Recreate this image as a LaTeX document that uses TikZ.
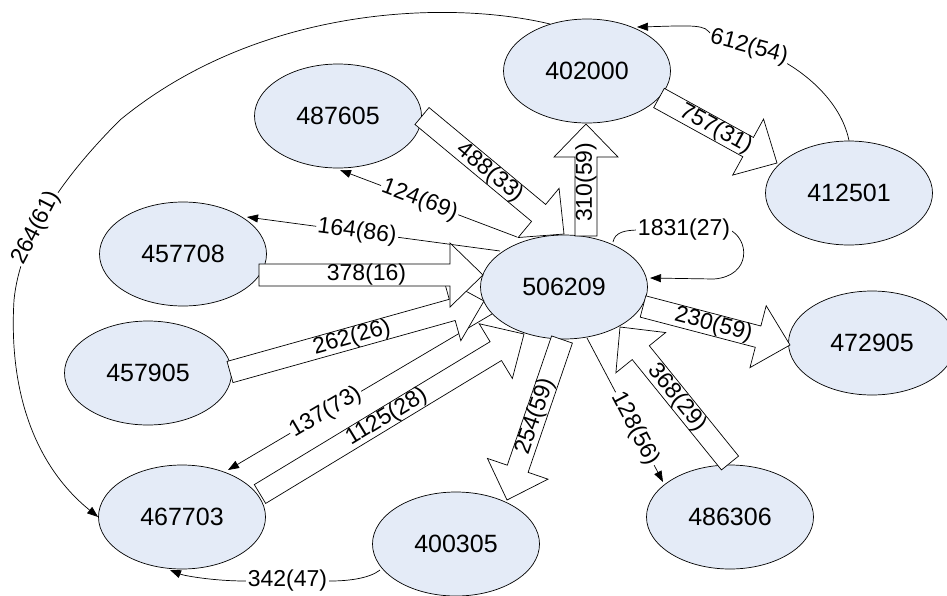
\documentclass[tikz,border=0pt]{standalone}
\usepackage{fontspec}
\setmainfont{Liberation Sans}
\usetikzlibrary{calc,arrows.meta,shapes.geometric}

\definecolor{stationfill}{RGB}{228,235,247}

% fat hollow arrow from a tail point to a tip point, label along the shaft
\newcommand\fatarrow[3]{%
  \path #1 coordinate (fat-t) #2 coordinate (fat-h);
  \coordinate (fat-b) at ($(fat-h)!33pt!(fat-t)$);
  \draw[fatline]
    ($(fat-t)!11pt!90:(fat-h)$) -- ($(fat-b)!11pt!-90:(fat-t)$) --
    ($(fat-b)!32pt!-90:(fat-t)$) -- (fat-h) --
    ($(fat-b)!32pt!90:(fat-t)$) -- ($(fat-b)!11pt!90:(fat-t)$) --
    ($(fat-t)!11pt!-90:(fat-h)$) -- cycle;
  \path (fat-t) -- (fat-h) node[pos=0.48, sloped, fatlbl] {#3};
}

\begin{document}
\begin{tikzpicture}[x=1pt, y=1pt,
  station/.style={ellipse, draw, line width=0.7pt, fill=stationfill,
    minimum width=167pt, minimum height=104pt, inner sep=0pt,
    font=\fontsize{25}{30}\selectfont},
  flow/.style={line width=0.7pt, -{Triangle[length=11pt,width=8pt]}},
  fatline/.style={draw, line width=0.7pt, fill=white, line join=miter},
  lbl/.style={fill=white, inner sep=1.5pt, font=\fontsize{23}{27}\selectfont},
  fatlbl/.style={inner sep=0pt, font=\fontsize{23}{27}\selectfont},
]
\useasboundingbox (0,0) rectangle (947,-595);
\fill[white] (0,0) rectangle (947,-595);

% stations
\node[station] (n402000) at (587,-71)  {402000};
\node[station] (n487605) at (338,-116) {487605};
\node[station] (n457708) at (183,-254) {457708};
\node[station] (n457905) at (148,-373) {457905};
\node[station] (n467703) at (182,-517) {467703};
\node[station] (n400305) at (456,-544) {400305};
\node[station] (n506209) at (564,-287) {506209};
\node[station] (n412501) at (849,-193) {412501};
\node[station] (n472905) at (872,-343) {472905};
\node[station] (n486306) at (730,-517) {486306};

% thin flows
\draw[flow] ($(n506209)+(-47,50)$) -- ($(n487605)+(2,-54)$)
  node[pos=0.55, sloped, lbl] {124(69)};
\draw[flow] ($(n506209)+(-64,36)$) -- ($(n457708)+(64,37)$)
  node[pos=0.565, sloped, lbl] {164(86)};
\draw[flow] ($(n506209)+(-72,-27)$) -- ($(n467703)+(46,47)$)
  node[pos=0.63, sloped, lbl] {137(73)};
\draw[flow] ($(n506209)+(23,-51)$) -- ($(n486306)+(-67,35)$)
  node[pos=0.63, sloped, lbl] {128(56)};

% self loop on 506209
\draw[flow] ($(n506209)+(49,45)$) .. controls (615,-232) and (625,-230) .. (640,-230)
  -- (728,-229) node[midway, lbl] {1831(27)}
  .. controls (750,-238) and (752,-276) .. (714,-279) -- ($(n506209)+(86,9)$);

% 412501 back to 402000
\draw[flow] (n412501.north) .. controls (840,-95) and (790,-58) .. (749,-47)
  node[pos=1, sloped, lbl] {612(54)}
  .. controls (725,-40) and (712,-36) .. (708,-31)
  .. controls (703,-24) and (680,-26) .. ($(n402000)+(50,44)$);

% long arc 402000 to 467703
\draw[flow] ($(n402000)+(-37,47)$) .. controls (450,0) and (260,-5) .. (120,-120)
  .. controls (60,-180) and (20,-240) .. (14,-300)
  node[pos=0.6, sloped, lbl] {264(61)}
  .. controls (8,-400) and (40,-470) .. (n467703.west);

% 400305 to 467703
\draw[flow] ($(n400305)+(-76,-26)$) .. controls (370,-578) and (350,-581) .. (330,-581)
  -- (245,-581) node[midway, lbl] {342(47)}
  .. controls (215,-581) and (185,-576) .. ($(n467703)+(-12,-53)$);

% fat flows
\fatarrow{($(n457905)+(82,1)$)}{($(n506209)+(-80,-14)$)}{262(26)}
\fatarrow{($(n467703)+(78,23)$)}{($(n506209)+(-40,-47)$)}{1125(28)}
\fatarrow{($(n457708)+(76,-21)$)}{($(n506209)+(-81,12)$)}{378(16)}
\fatarrow{($(n487605)+(84,0)$)}{($(n506209)+(0,53)$)}{488(33)}
\fatarrow{($(n506209)+(22,51)$)}{($(n402000)+(-1,-53)$)}{310(59)}
\fatarrow{($(n402000)+(72,-27)$)}{($(n412501)+(-72,30)$)}{757(31)}
\fatarrow{($(n506209)+(-2,-52.5)$)}{($(n400305)+(51,44)$)}{254(59)}
\fatarrow{($(n486306)+(0,54)$)}{($(n506209)+(56,-40)$)}{368(29)}
\fatarrow{($(n506209)+(79,-19.5)$)}{($(n472905)+(-82,-2)$)}{230(59)}
\end{tikzpicture}
\end{document}
